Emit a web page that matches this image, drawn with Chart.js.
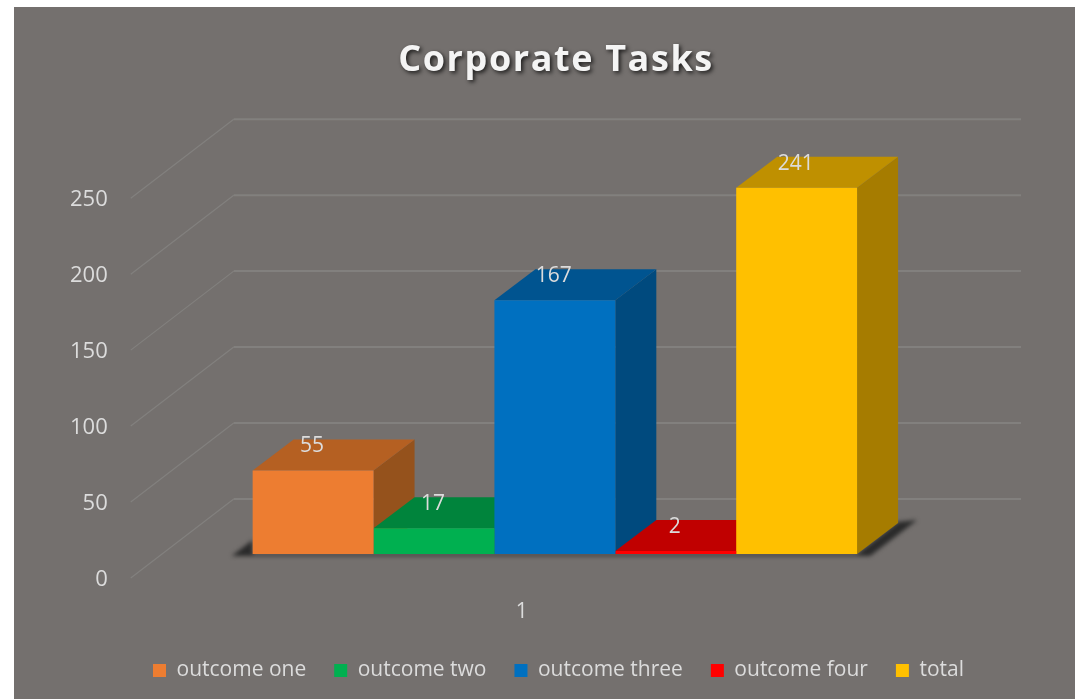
<!DOCTYPE html>
<html>
<head>
<meta charset="utf-8">
<title>Corporate Tasks</title>
<script src="https://cdn.jsdelivr.net/npm/chart.js@4/dist/chart.umd.js"></script>
<style>
  html, body { margin: 0; padding: 0; background: #fff; }
  canvas { display: block; }
</style>
</head>
<body>
<canvas id="grafica" width="1075" height="699"></canvas>
<script>
const categorias = ['1'];
const series = ['outcome one', 'outcome two', 'outcome three', 'outcome four', 'total'];
const valores = [55, 17, 167, 2, 241];
const marcasY = [0, 50, 100, 150, 200, 250];

const colorFrente = ['#ED7D31', '#00B050', '#0070C0', '#FF0000', '#FFC000'];
const colorArriba = ['#B56022', '#00843C', '#005490', '#C00000', '#BF9000'];
const colorLado = ['#95521C', '#006E32', '#004A7E', '#A00000', '#A67C00'];

const fuente = '"Open Sans", sans-serif';
const colorTexto = '#DCDCDC';
const colorGrid = '#82807E';

// profundidad de cada barra
const fondoX = 41, fondoY = 31;

const cara = (ctx, puntos, color) => {
  ctx.fillStyle = color;
  ctx.beginPath();
  puntos.forEach(([x, y], i) => (i ? ctx.lineTo(x, y) : ctx.moveTo(x, y)));
  ctx.closePath();
  ctx.fill();
};

// Fondo, paredes y lineas de la cuadricula
const paredes = {
  id: 'paredes',
  beforeDraw(chart) {
    const { ctx, chartArea, scales } = chart;
    ctx.save();
    ctx.fillStyle = '#74706E';
    ctx.fillRect(14, 7, chart.width - 14, chart.height - 7);

    ctx.strokeStyle = colorGrid;
    scales.y.ticks.forEach((t) => {
      const y = scales.y.getPixelForValue(t.value);
      ctx.lineWidth = 1.2;
      ctx.beginPath();
      ctx.moveTo(chartArea.left - 30, y + 24);
      ctx.lineTo(chartArea.left + 73, y - 55);
      ctx.stroke();
      ctx.lineWidth = 2;
      ctx.beginPath();
      ctx.moveTo(chartArea.left + 73, y - 55);
      ctx.lineTo(chartArea.right + 72, y - 55);
      ctx.stroke();
    });
    ctx.restore();
  },
  afterLayout(chart) {
    // titulo y leyenda van centrados sobre las barras
    chart.titleBlock.left = 37;
    chart.titleBlock.right = chart.width;
    chart.legend.left = 42;
    chart.legend.right = chart.width;
    chart.legend.top = 632;
  },
};

// Caras superior y lateral de cada barra, mas la sombra del piso
const cajas = {
  id: 'cajas',
  beforeDatasetsDraw(chart) {
    const { ctx } = chart;
    const barras = series.map((s, i) => chart.getDatasetMeta(i).data[0]);
    const base = barras[0].base;
    const izq = barras[0].x - barras[0].width / 2;
    const der = barras[4].x + barras[4].width / 2;

    ctx.save();
    ctx.filter = 'blur(2px)';
    cara(ctx, [
      [izq - 21, base + 2], [izq, base - 14], [izq, base], [der, base],
      [der + 41, base - 32], [der + 60, base - 34], [der + 13, base + 2],
    ], '#2A2A2A');
    ctx.restore();

    barras.forEach((b, i) => {
      const l = b.x - b.width / 2;
      const r = b.x + b.width / 2;
      cara(ctx, [[r, b.y], [r + fondoX, b.y - fondoY], [r + fondoX, base - fondoY], [r, base]], colorLado[i]);
      cara(ctx, [[l, b.y], [l + fondoX, b.y - fondoY], [r + fondoX, b.y - fondoY], [r, b.y]], colorArriba[i]);
    });
  },
  afterDatasetsDraw(chart) {
    const { ctx } = chart;
    ctx.save();
    ctx.font = '21px ' + fuente;
    ctx.fillStyle = colorTexto;
    ctx.textAlign = 'center';
    ctx.textBaseline = 'middle';
    series.forEach((s, i) => {
      const b = chart.getDatasetMeta(i).data[0];
      ctx.fillText(String(valores[i]), b.x - 1, b.y - 24);
    });
    ctx.restore();
  },
};

// Sombra y espaciado del titulo
const tituloSombra = {
  id: 'tituloSombra',
  afterInit(chart) {
    const titulo = chart.titleBlock;
    const dibujar = titulo.draw;
    titulo.draw = function () {
      const { ctx } = chart;
      ctx.save();
      ctx.shadowColor = 'rgba(0,0,0,0.75)';
      ctx.shadowBlur = 4;
      ctx.shadowOffsetX = 2;
      ctx.shadowOffsetY = 2;
      ctx.letterSpacing = '1.6px';
      dibujar.call(this);
      ctx.restore();
    };
  },
};

new Chart(document.getElementById('grafica'), {
  type: 'bar',
  data: {
    labels: categorias,
    datasets: series.map((s, i) => ({
      label: s,
      data: [valores[i]],
      backgroundColor: colorFrente[i],
      borderWidth: 0,
    })),
  },
  options: {
    responsive: false,
    animation: false,
    events: [],
    layout: { padding: { left: 17, right: 126, top: 0, bottom: 0 } },
    datasets: { bar: { categoryPercentage: 0.7668, barPercentage: 1 } },
    scales: {
      x: {
        grid: { display: false, drawTicks: false },
        border: { display: false },
        afterFit: (s) => { s.height = 86; },
        ticks: { color: colorTexto, padding: 45, labelOffset: -33, font: { family: fuente, size: 21 } },
      },
      y: {
        min: 0,
        max: 250,
        grid: { display: false, drawTicks: false },
        border: { display: false },
        afterBuildTicks: (s) => { s.ticks = marcasY.map((v) => ({ value: v })); },
        ticks: { color: colorTexto, padding: 53, labelOffset: 26, font: { family: fuente, size: 22 } },
      },
    },
    plugins: {
      title: {
        display: true,
        text: 'Corporate Tasks',
        color: '#F4F4F4',
        font: { family: fuente, size: 36, weight: 'bold' },
        padding: { top: 39, bottom: 92 },
      },
      legend: {
        position: 'bottom',
        labels: { color: colorTexto, boxWidth: 13, boxHeight: 13, padding: 28, font: { family: fuente, size: 21 } },
      },
      tooltip: { enabled: false },
    },
  },
  plugins: [paredes, cajas, tituloSombra],
});
</script>
</body>
</html>
